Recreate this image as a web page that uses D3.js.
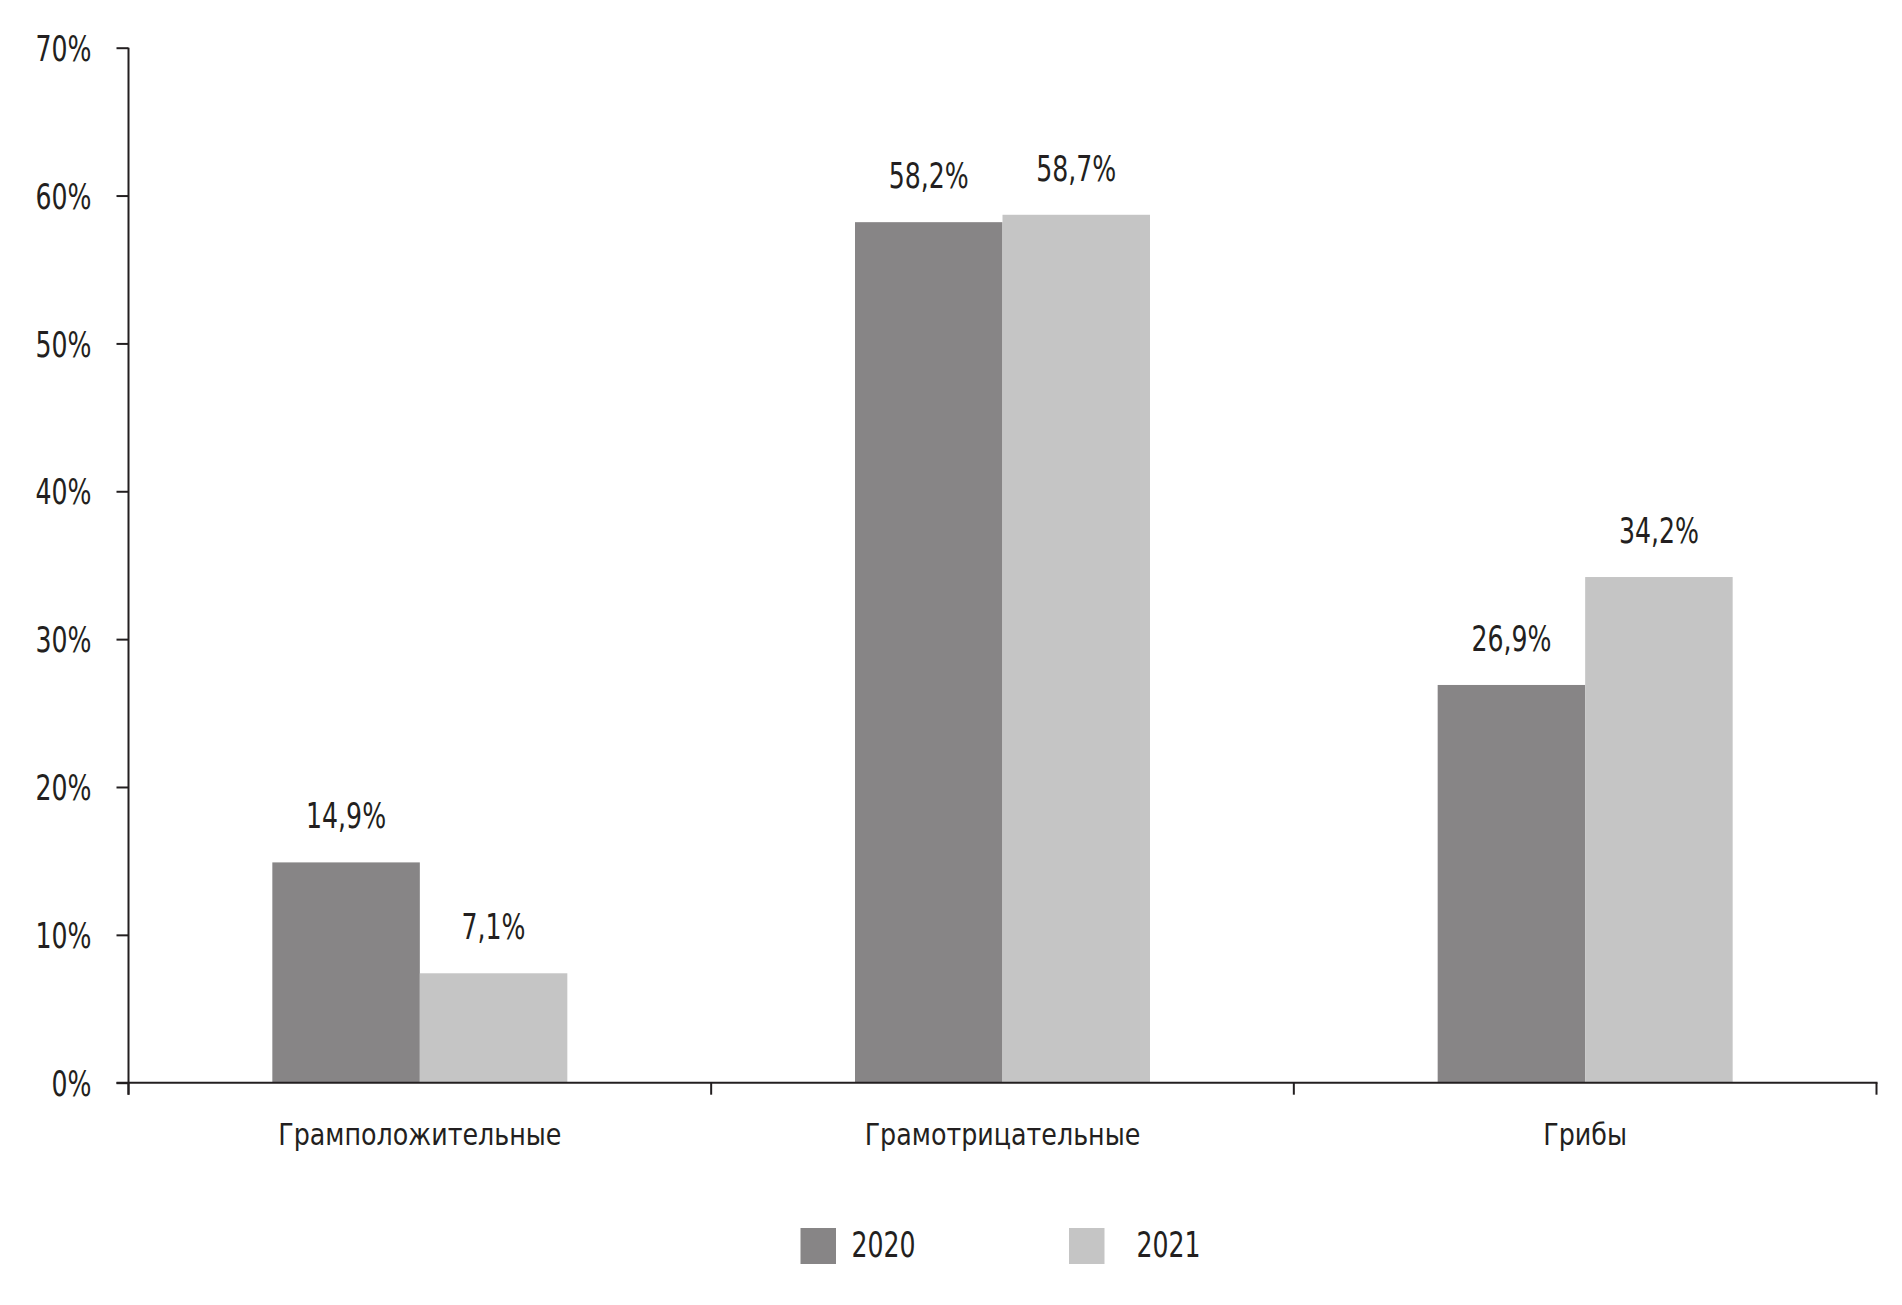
<!DOCTYPE html>
<html><head><meta charset="utf-8">
<script src="https://cdn.jsdelivr.net/npm/d3@7"></script>
<style>
html,body{margin:0;padding:0;background:#fff;}
svg{display:block;}
text{font-family:"DejaVu Sans Condensed","DejaVu Sans",sans-serif;fill:#231f20;transform-box:fill-box;}
text.num-mid{transform-origin:center;transform:scaleX(0.8);}
text.num-end{transform-origin:right center;transform:scaleX(0.8);}
text.num-start{transform-origin:left center;transform:scaleX(0.8);}
text.cat{transform-origin:center;transform:scaleX(0.94);}
</style></head>
<body>
<svg id="chart" width="1902" height="1305"></svg>
<script>
const categories = ["Грамположительные", "Грамотрицательные", "Грибы"];
const seriesNames = ["2020", "2021"];
const values2020 = [14.9, 58.2, 26.9];
const values2021 = [7.4, 58.7, 34.2];
const labels2020 = ["14,9%", "58,2%", "26,9%"];
const labels2021 = ["7,1%", "58,7%", "34,2%"];
const yTicks = [0, 10, 20, 30, 40, 50, 60, 70];
const colors = ["#878586", "#c5c5c5"];

(function () {
const svg = d3.select("#chart");
const mLeft = 128.5, mRight = 1876.5, mTop = 47.7, mBottom = 1082.7;

const x0 = d3.scaleBand().domain(categories).range([mLeft, mRight]).padding(0);
const barW = 147.5;
const x1 = d3.scaleBand().domain(seriesNames)
  .range([x0.bandwidth()/2 - barW, x0.bandwidth()/2 + barW]).padding(0);
const y = d3.scaleLinear().domain([0, 70]).range([mBottom, mTop]);

const series = [values2020, values2021];
const labs = [labels2020, labels2021];
seriesNames.forEach((s, si) => {
  const g = svg.append("g");
  g.selectAll("rect").data(categories).join("rect")
    .attr("x", c => x0(c) + x1(s))
    .attr("y", (c, i) => y(series[si][i]))
    .attr("width", x1.bandwidth())
    .attr("height", (c, i) => y(0) - y(series[si][i]))
    .attr("fill", colors[si]);
  g.selectAll("text").data(categories).join("text")
    .attr("class", "num-mid")
    .attr("x", c => x0(c) + x1(s) + x1.bandwidth()/2)
    .attr("y", (c, i) => y(series[si][i]) - 34)
    .attr("text-anchor", "middle")
    .attr("font-size", 35)
    .text((c, i) => labs[si][i]);
});

const yAxis = d3.axisLeft(y).tickValues(yTicks).tickFormat(d => d + "%")
  .tickSize(12).tickSizeOuter(0).tickPadding(25);
const yg = svg.append("g").attr("transform", `translate(${mLeft},0)`).call(yAxis);
yg.attr("font-family", null).attr("font-size", null);
yg.select(".domain").remove();
yg.selectAll(".tick line").attr("stroke", "#231f20").attr("stroke-width", 2);
yg.selectAll(".tick text").attr("class", "num-end").attr("font-size", 35).attr("fill", "#231f20").attr("dy", "0.36em");
svg.append("line").attr("x1", mLeft).attr("x2", mLeft).attr("y1", mTop).attr("y2", mBottom + 12)
  .attr("stroke", "#231f20").attr("stroke-width", 2);

svg.append("line").attr("x1", mLeft - 12).attr("x2", mRight + 1).attr("y1", mBottom).attr("y2", mBottom)
  .attr("stroke", "#231f20").attr("stroke-width", 2);
const bounds = categories.map(c => x0(c)).concat([x0(categories[categories.length-1]) + x0.bandwidth()]);
svg.selectAll(".xtick").data(bounds).join("line").attr("class", "xtick")
  .attr("x1", d => d).attr("x2", d => d).attr("y1", mBottom).attr("y2", mBottom + 12)
  .attr("stroke", "#231f20").attr("stroke-width", 2);
svg.selectAll(".xlab").data(categories).join("text").attr("class", "cat")
  .attr("x", c => x0(c) + x0.bandwidth()/2)
  .attr("y", 1145)
  .attr("text-anchor", "middle")
  .attr("font-size", 30)
  .text(c => c);

const legX = [800.5, 1069];
const legTextX = [851.5, 1136.5];
seriesNames.forEach((s, i) => {
  svg.append("rect").attr("x", legX[i]).attr("y", 1228).attr("width", 35.5).attr("height", 36)
    .attr("fill", colors[i]);
  svg.append("text").attr("class", "num-start").attr("x", legTextX[i]).attr("y", 1257).attr("font-size", 35).text(s);
});
})();
</script>
</body></html>
